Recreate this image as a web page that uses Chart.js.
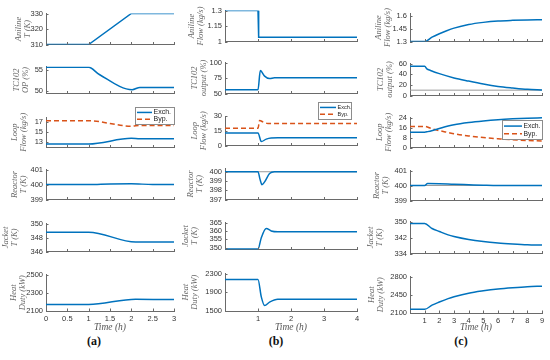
<!DOCTYPE html>
<html>
<head>
<meta charset="utf-8">
<script src="https://cdn.jsdelivr.net/npm/chart.js@4.4.1/dist/chart.umd.min.js"></script>
<style>
  body { margin: 0; background: #fff; width: 550px; height: 360px; position: relative; overflow: hidden; }
  canvas { position: absolute; }
  .tag { position: absolute; top: 334px; width: 40px; margin-left: -20px; text-align: center;
         font: bold 12px 'Liberation Serif'; line-height: 14px; color: #111; }
</style>
</head>
<body>
<div class="tag" style="left:94px">(a)</div>
<div class="tag" style="left:276px">(b)</div>
<div class="tag" style="left:461px">(c)</div>
<script>
// ---- data ----
// column (a): aniline temperature step
const tA_anil = [0, 1, 2, 3];
const yA_anil = [310, 310, 330, 330];
const tA_op = [0, 1, 1.25, 2.02, 2.2, 3];
const yA_op = [55.6, 55.6, 53.9, 50.3, 50.85, 50.85];
const tA_loop = [0, 1, 2, 2.2, 3];
const yA_exch = [12.7, 12.7, 13.8, 13.7, 13.7];
const yA_byp = [17.25, 17.25, 16.2, 16.35, 16.35];
const tA_reac = [0, 1, 1.5, 2, 2.5, 3];
const yA_reac = [400, 400, 400.04, 400.05, 400, 400];
const tA_jack = [0, 1, 2.1, 3];
const yA_jack = [348.75, 348.75, 347.35, 347.35];
const tA_heat = [0, 1, 2.1, 3];
const yA_heat = [2172, 2172, 2230, 2225];

// column (b): aniline flow step
const tB_anil = [0, 1, 1.02, 4];
const yB_anil = [1.3, 1.3, 1.04, 1.04];
const tB_op = [0, 1, 1.07, 1.2, 1.35, 1.5, 4];
const yB_op = [56, 56, 87, 78, 74, 75.5, 75.5];
const tB_exch = [0, 1, 1.1, 1.25, 1.4, 1.6, 4];
const yB_exch = [12.7, 12.7, 4, 6.5, 7.6, 7.8, 7.8];
const tB_byp = [0, 1, 1.05, 1.15, 1.3, 4];
const yB_byp = [17.5, 17.5, 25.5, 24, 22.5, 22.5];
const tB_reac = [0, 1, 1.06, 1.12, 1.2, 1.35, 1.5, 4];
const yB_reac = [400, 400, 399.2, 398.6, 398.9, 399.8, 400, 400];
const tB_jack = [0, 1, 1.1, 1.25, 1.4, 1.6, 4];
const yB_jack = [349.3, 349.3, 356, 361.5, 360, 359.5, 359.5];
const tB_heat = [0, 1, 1.1, 1.2, 1.35, 1.6, 4];
const yB_heat = [2172, 2172, 1800, 1615, 1690, 1750, 1750];

// column (c): slow aniline flow increase
const tC_anil = [0, 1, 1.5, 2, 2.5, 3, 4, 5, 6, 7, 8, 9];
const yC_anil = [1.3, 1.3, 1.35, 1.39, 1.425, 1.455, 1.497, 1.522, 1.538, 1.546, 1.551, 1.553];
const tC_op = [0, 1, 1.15, 1.4, 2, 3, 4, 5, 6, 7, 8, 9];
const yC_op = [55, 55, 50, 47, 41, 33, 27, 21.5, 17, 14, 11.5, 10.4];
const tC_exch = [0, 1, 1.2, 1.6, 2, 2.6, 3, 4, 5, 6, 7, 8, 9];
const yC_exch = [12.6, 12.6, 13, 14.2, 15.6, 17.6, 18.7, 20.5, 21.8, 22.8, 23.5, 24, 24.3];
const tC_byp = [0, 1, 1.5, 2, 2.6, 3, 4, 5, 6, 7, 8, 9];
const yC_byp = [17.3, 17.3, 15.3, 13.8, 12.3, 11.3, 9.5, 8.2, 7.2, 6.3, 5.7, 5.4];
const tC_reac = [0, 1, 1.2, 2, 3, 4, 5, 6, 9];
const yC_reac = [400, 400, 400.13, 400.12, 400.08, 400.05, 400.02, 400, 400];
const tC_jack = [0, 1, 1.5, 2, 2.6, 3, 4, 5, 6, 7, 8, 9];
const yC_jack = [349, 349, 346.5, 345, 343.3, 342.5, 341, 340, 339.3, 338.8, 338.4, 338.2];
const tC_heat = [0, 1, 1.5, 2, 2.6, 3, 4, 5, 6, 7, 8, 9];
const yC_heat = [2170, 2170, 2250, 2310, 2375, 2410, 2480, 2525, 2560, 2585, 2605, 2615];

// reference (setpoint / limit) lines
const refT = [0, 9];
const refReactor = [400, 400];
const refOpLimit = [10, 10];

// axis limits and tick labels
const xMax = [3, 4, 9];
const xTicks = [[0, 0.5, 1, 1.5, 2, 2.5, 3], [1, 2, 3, 4], [1, 2, 3, 4, 5, 6, 7, 8, 9]];
const yLims = [
  [[310, 330], [49.4, 55.8], [12, 18], [399, 401], [346, 350], [2100, 2500]],
  [[1, 1.3], [50, 100], [0, 30], [397, 400.35], [349, 365], [1500, 2300]],
  [[1.3, 1.625], [0, 60], [0, 25], [399, 401], [334, 350], [2100, 2800]]
];
const yTicks = [
  [[310, 320, 330], [50, 55], [13, 15, 17], [399, 400, 401], [346, 348, 350], [2100, 2300, 2500]],
  [[1, 1.15, 1.3], [50, 75, 100], [0, 15, 30], [397, 398, 399, 400], [350, 355, 360, 365], [1500, 1900, 2300]],
  [[1.3, 1.45, 1.6], [0, 20, 40, 60], [0, 8, 16, 24], [399, 400, 401], [334, 342, 350], [2100, 2450, 2800]]
];
const yTitles = [
  [['Aniline', 'T (K)'], ['TC102', 'OP (%)'], ['Loop', 'Flow (kg/s)'], ['Reactor', 'T (K)'], ['Jacket', 'T (K)'], ['Heat', 'Duty (kW)']],
  [['Aniline', 'Flow (kg/s)'], ['TC102', 'output (%)'], ['Loop', 'Flow (kg/s)'], ['Reactor', 'T (K)'], ['Jacket', 'T (K)'], ['Heat', 'Duty (kW)']],
  [['Aniline', 'Flow (kg/s)'], ['TC102', 'output (%)'], ['Loop', 'Flow (kg/s)'], ['Reactor', 'T (K)'], ['Jacket', 'T (K)'], ['Heat', 'Duty (kW)']]
];

// ---- layout ----
const BLUE = '#0072BD', ORANGE = '#D95319', GRAY = '#9a9a9a';
const AXIS = '#6a6a6a', TICK = '#333';
const canvasLeft = [0, 180, 366];
const plotL = [46, 225, 410];
const plotR = [174, 357, 542];
const rowBox = [
  [[13, 51], [66, 100], [117, 154], [169, 206], [223, 258], [274, 311]],
  [[10, 48], [62, 100], [116, 152], [168, 206], [222, 256], [273, 311]],
  [[13, 48], [63, 102], [117, 154], [170, 207], [221, 260], [276, 313]]
];
const titleX = [[19, 17, 15, 15, 6, 14], [191.5, 195, 195, 190.5, 186, 186], [379, 381, 380, 377, 371, 372]];
const legends = [
  {r: 0, t: -10, w: 39, h: 17, sw: 15, size: 7},
  {r: 6, t: -14, w: 33, h: 17, sw: 16, size: 5.5},
  {r: 0, t: 3, w: 40, h: 19, sw: 18, size: 6.8}
];
const BOTTOM = 336;

const line = (t, y, color, extra) => Object.assign({
  data: t.map((v, i) => ({x: v, y: y[i]})),
  borderColor: color, borderWidth: 1.5, pointRadius: 0,
  cubicInterpolationMode: 'monotone', fill: false
}, extra || {});

const series = [
  [
    [line(tA_anil, yA_anil, BLUE, {tension: 0, cubicInterpolationMode: 'default'})],
    [line(tA_op, yA_op, BLUE)],
    [line(tA_loop, yA_exch, BLUE, {label: 'Exch.'}), line(tA_loop, yA_byp, ORANGE, {label: 'Byp.', borderDash: [5, 3]})],
    [line(tA_reac, yA_reac, BLUE)],
    [line(tA_jack, yA_jack, BLUE)],
    [line(tA_heat, yA_heat, BLUE)]
  ],
  [
    [line(tB_anil, yB_anil, BLUE, {tension: 0, cubicInterpolationMode: 'default'})],
    [line(tB_op, yB_op, BLUE)],
    [line(tB_exch, yB_exch, BLUE, {label: 'Exch.'}), line(tB_byp, yB_byp, ORANGE, {label: 'Byp.', borderDash: [5, 3]})],
    [line(tB_reac, yB_reac, BLUE), line(refT, refReactor, GRAY, {borderWidth: 1})],
    [line(tB_jack, yB_jack, BLUE)],
    [line(tB_heat, yB_heat, BLUE)]
  ],
  [
    [line(tC_anil, yC_anil, BLUE)],
    [line(tC_op, yC_op, BLUE), line(refT, refOpLimit, GRAY, {borderWidth: 1})],
    [line(tC_exch, yC_exch, BLUE, {label: 'Exch.'}), line(tC_byp, yC_byp, ORANGE, {label: 'Byp.', borderDash: [5, 3]})],
    [line(tC_reac, yC_reac, BLUE), line(refT, refReactor, GRAY, {borderWidth: 1})],
    [line(tC_jack, yC_jack, BLUE)],
    [line(tC_heat, yC_heat, BLUE)]
  ]
];

// MATLAB style inward tick marks
const inwardTicks = {
  id: 'inwardTicks',
  afterDraw(chart) {
    const {ctx, chartArea: a, scales: {x, y}} = chart;
    ctx.save();
    ctx.strokeStyle = AXIS;
    ctx.lineWidth = 1;
    ctx.beginPath();
    x.ticks.forEach(t => {
      const px = Math.round(x.getPixelForValue(t.value)) + 0.5;
      ctx.moveTo(px, a.bottom);
      ctx.lineTo(px, a.bottom - 2.5);
    });
    y.ticks.forEach(t => {
      const py = Math.round(y.getPixelForValue(t.value)) + 0.5;
      ctx.moveTo(a.left, py);
      ctx.lineTo(a.left + 2.5, py);
    });
    ctx.stroke();
    ctx.restore();
  }
};

// boxed legend inside the axes, like MATLAB
const boxLegend = {
  id: 'boxLegend',
  afterDraw(chart, args, o) {
    if (!o || !o.w) return;
    const {ctx, chartArea: a} = chart;
    const bx = Math.round(a.right - o.r - o.w), by = Math.round(a.top + o.t);
    ctx.save();
    ctx.fillStyle = '#fff';
    ctx.fillRect(bx, by, o.w, o.h);
    ctx.strokeStyle = '#8c8c8c';
    ctx.lineWidth = 1;
    ctx.strokeRect(bx + 0.5, by + 0.5, o.w, o.h);
    chart.data.datasets.filter(d => d.label).forEach((d, i) => {
      const ly = by + o.h * (i ? 0.72 : 0.32);
      ctx.strokeStyle = d.borderColor;
      ctx.lineWidth = 1.5;
      ctx.setLineDash(d.borderDash || []);
      ctx.beginPath();
      ctx.moveTo(bx + 2, ly);
      ctx.lineTo(bx + 2 + o.sw, ly);
      ctx.stroke();
      ctx.setLineDash([]);
      ctx.fillStyle = '#222';
      ctx.font = o.size + 'px "Liberation Sans"';
      ctx.textBaseline = 'middle';
      ctx.fillText(d.label, bx + 3.5 + o.sw, ly);
    });
    ctx.restore();
  }
};

function panel(col, row) {
  const [top, bot] = rowBox[col][row];
  const last = row === 5;
  const padT = row === 2 ? 17 : 7;
  const xH = last ? BOTTOM - bot : 1;
  const left = canvasLeft[col];
  const cv = document.createElement('canvas');
  cv.width = plotR[col] + 7 - left;
  cv.height = padT + (bot - top) + xH;
  cv.style.left = left + 'px';
  cv.style.top = (top - padT) + 'px';
  document.body.appendChild(cv);

  const tickFont = {family: 'Liberation Sans', size: 7.5};
  const titleFont = {family: 'Liberation Serif', style: 'italic', size: 8.5, lineHeight: 1.05};

  new Chart(cv, {
    type: 'line',
    data: {datasets: series[col][row]},
    options: {
      responsive: false,
      animation: false,
      devicePixelRatio: 1,
      layout: {padding: {top: padT, right: 7, left: 0, bottom: 0}},
      plugins: {
        legend: {display: false},
        tooltip: {enabled: false},
        boxLegend: row === 2 ? legends[col] : false
      },
      scales: {
        x: {
          type: 'linear',
          min: 0,
          max: xMax[col],
          afterBuildTicks: s => { s.ticks = xTicks[col].map(v => ({value: v})); },
          afterFit: s => { s.height = xH; },
          grid: {drawOnChartArea: false, drawTicks: false},
          border: {color: AXIS, width: 1},
          ticks: {display: last, padding: 3, font: tickFont, color: TICK,
                  autoSkip: false, maxRotation: 0, callback: v => String(v)},
          title: {display: last, text: 'Time (h)', color: '#555',
                  font: {family: 'Liberation Serif', style: 'italic', size: 9.5, lineHeight: 1.1},
                  padding: {top: 0, bottom: 2.8}}
        },
        y: {
          min: yLims[col][row][0],
          max: yLims[col][row][1],
          afterBuildTicks: s => { s.ticks = yTicks[col][row].map(v => ({value: v})); },
          afterFit: s => { s.width = plotL[col] - left; },
          grid: {drawOnChartArea: false, drawTicks: false},
          border: {color: AXIS, width: 1},
          ticks: {padding: 3, font: tickFont, color: TICK, autoSkip: false, callback: v => String(v)},
          title: {display: true, text: yTitles[col][row], color: '#666', font: titleFont,
                  padding: {top: titleX[col][row] - left - 4.45, bottom: 0}}
        }
      }
    },
    plugins: [inwardTicks, boxLegend]
  });
}

for (let c = 0; c < 3; c++) {
  for (let r = 0; r < 6; r++) panel(c, r);
}
</script>
</body>
</html>
